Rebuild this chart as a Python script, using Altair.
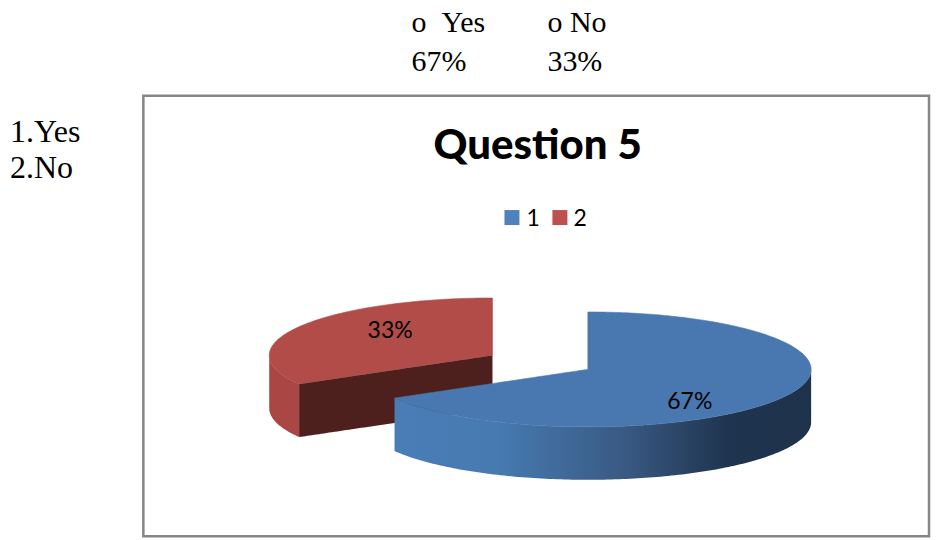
import numpy as np
import pandas as pd
import altair as alt

labels = ["1", "2"]
shares = [67, 33]
pct_labels = ["67%", "33%"]
colors_legend = ["#4F81BD", "#C0504D"]
title_text = ["Question 5"]
side_text = ["1.Yes", "2.No"]
top_labels = ["o\u00a0\u00a0Yes", "o\u00a0No"]
top_values = ["67%", "33%"]

W, H = 923, 528
Y0 = 13
RX, RY, DEPTH = 223.5, 57.5, 53
BLUE_C = (588.5, 370.5)
RED_C = (493, 356.5)
split = shares[0] / sum(shares) * 2 * np.pi * 0.995
sin_s, cos_s = np.sin(split), np.cos(split)

xs = alt.Scale(domain=[8, 8 + W], range=[0, W], nice=False, zero=False)
ys = alt.Scale(domain=[Y0, Y0 + H], range=[0, H], nice=False, zero=False)
X = alt.X("x:Q", scale=xs, axis=None)
Y = alt.Y("y:Q", scale=ys, axis=None)


def band(rows):
    return pd.DataFrame(rows, columns=["x", "y", "y2"]).astype(float)


def lo(cx, cy, x):
    return cy + RY * np.sqrt(np.clip(1 - ((x - cx) / RX) ** 2, 0, 1))


def hi(cx, cy, x):
    return cy - RY * np.sqrt(np.clip(1 - ((x - cx) / RX) ** 2, 0, 1))


def samples(cx, a, b):
    th = np.radians(np.arange(-90, 90.01, 1.0))
    v = cx + RX * np.sin(th)
    v = v[(v > a) & (v < b)]
    return np.concatenate([[a], v, [b]])


def line(x, cx, cy, kx, ky):
    return cy + (x - cx) * (ky - cy) / (kx - cx)


# blue slice
bx, by = BLUE_C
b_corner = bx + RX * sin_s
b_corner_y = by - RY * cos_s
s_l = samples(bx, b_corner, bx)
s_r = samples(bx, bx, bx + RX)
blue_face = band(
    [(x, line(x, bx, by, b_corner, b_corner_y), lo(bx, by, x)) for x in s_l]
    + [(x, hi(bx, by, x), lo(bx, by, x)) for x in s_r]
)
blue_wall = band(
    [(x, lo(bx, by, x), lo(bx, by, x) + DEPTH) for x in np.concatenate([s_l, s_r[1:]])]
)

# red slice
rx, ry = RED_C
r_corner = rx + RX * sin_s
r_corner_y = ry - RY * cos_s
r_l = samples(rx, rx - RX, r_corner)
r_m = samples(rx, r_corner, rx)
red_face = band(
    [(x, hi(rx, ry, x), lo(rx, ry, x)) for x in r_l]
    + [(x, hi(rx, ry, x), line(x, rx, ry, r_corner, r_corner_y)) for x in r_m]
)
red_wall = band([(x, lo(rx, ry, x), lo(rx, ry, x) + DEPTH) for x in r_l])
red_cut = band(
    [
        (x, line(x, rx, ry, r_corner, r_corner_y), line(x, rx, ry, r_corner, r_corner_y) + DEPTH)
        for x in r_m
    ]
)


def area(d, fill, edge=None):
    kw = {"stroke": edge, "strokeWidth": 0.6} if edge else {}
    return (
        alt.Chart(d)
        .mark_area(fill=fill, opacity=1, interpolate="linear", **kw)
        .encode(x=X, y=Y, y2="y2:Q")
    )


blue_grad = alt.Gradient(
    gradient="linear",
    x1=0, x2=1, y1=0, y2=0,
    stops=[
        alt.GradientStop(offset=0, color="#4A7DB6"),
        alt.GradientStop(offset=0.25, color="#467AB0"),
        alt.GradientStop(offset=0.55, color="#395A83"),
        alt.GradientStop(offset=0.8, color="#1F344F"),
        alt.GradientStop(offset=1, color="#1E324B"),
    ],
)

frame = (
    alt.Chart(pd.DataFrame({"x": [143.5], "x2": [930], "y": [96.5], "y2": [537.5]}))
    .mark_rect(fill="white", stroke="#868686", strokeWidth=2.5)
    .encode(x=X, x2="x2:Q", y=Y, y2="y2:Q")
)


def text(strs, xv, yv, font, size, weight="normal", color="#000000"):
    d = pd.DataFrame({"t": strs, "x": xv, "y": yv})
    return (
        alt.Chart(d)
        .mark_text(align="left", baseline="alphabetic", font=font, fontSize=size,
                   fontWeight=weight, color=color)
        .encode(x=X, y=Y, text="t:N")
    )


legend_df = pd.DataFrame({"k": labels, "x": [512.5, 560.5], "y": [218.5, 218.5]})
legend_marks = (
    alt.Chart(legend_df)
    .mark_square(size=225, opacity=1)
    .encode(
        x=X, y=Y,
        color=alt.Color("k:N", scale=alt.Scale(domain=labels, range=colors_legend), legend=None),
    )
)

chart = alt.layer(
    frame,
    area(red_wall, "#AA4745"),
    area(red_face, "#B14C49", "#B14C49"),
    area(red_cut, "#4D1F1D"),
    area(blue_wall, blue_grad),
    area(blue_face, "#4878AF", "#4878AF"),
    text(pct_labels, [668, 368], [410, 339], "Lato", 23),
    text(title_text, [434], [160], "Lato", 42, 900),
    legend_marks,
    text(labels, [527, 574], [227, 227], "Lato", 23),
    text(side_text, [10, 10], [143, 179], "Liberation Serif", 32),
    text(top_labels, [412, 548], [33, 33], "Liberation Serif", 30),
    text(top_values, [412, 548], [72, 72], "Liberation Serif", 30),
).properties(width=W, height=H, padding=0, background="white").configure_view(stroke=None)

chart.save("out.html", embed_options={"renderer": "svg", "actions": False})
